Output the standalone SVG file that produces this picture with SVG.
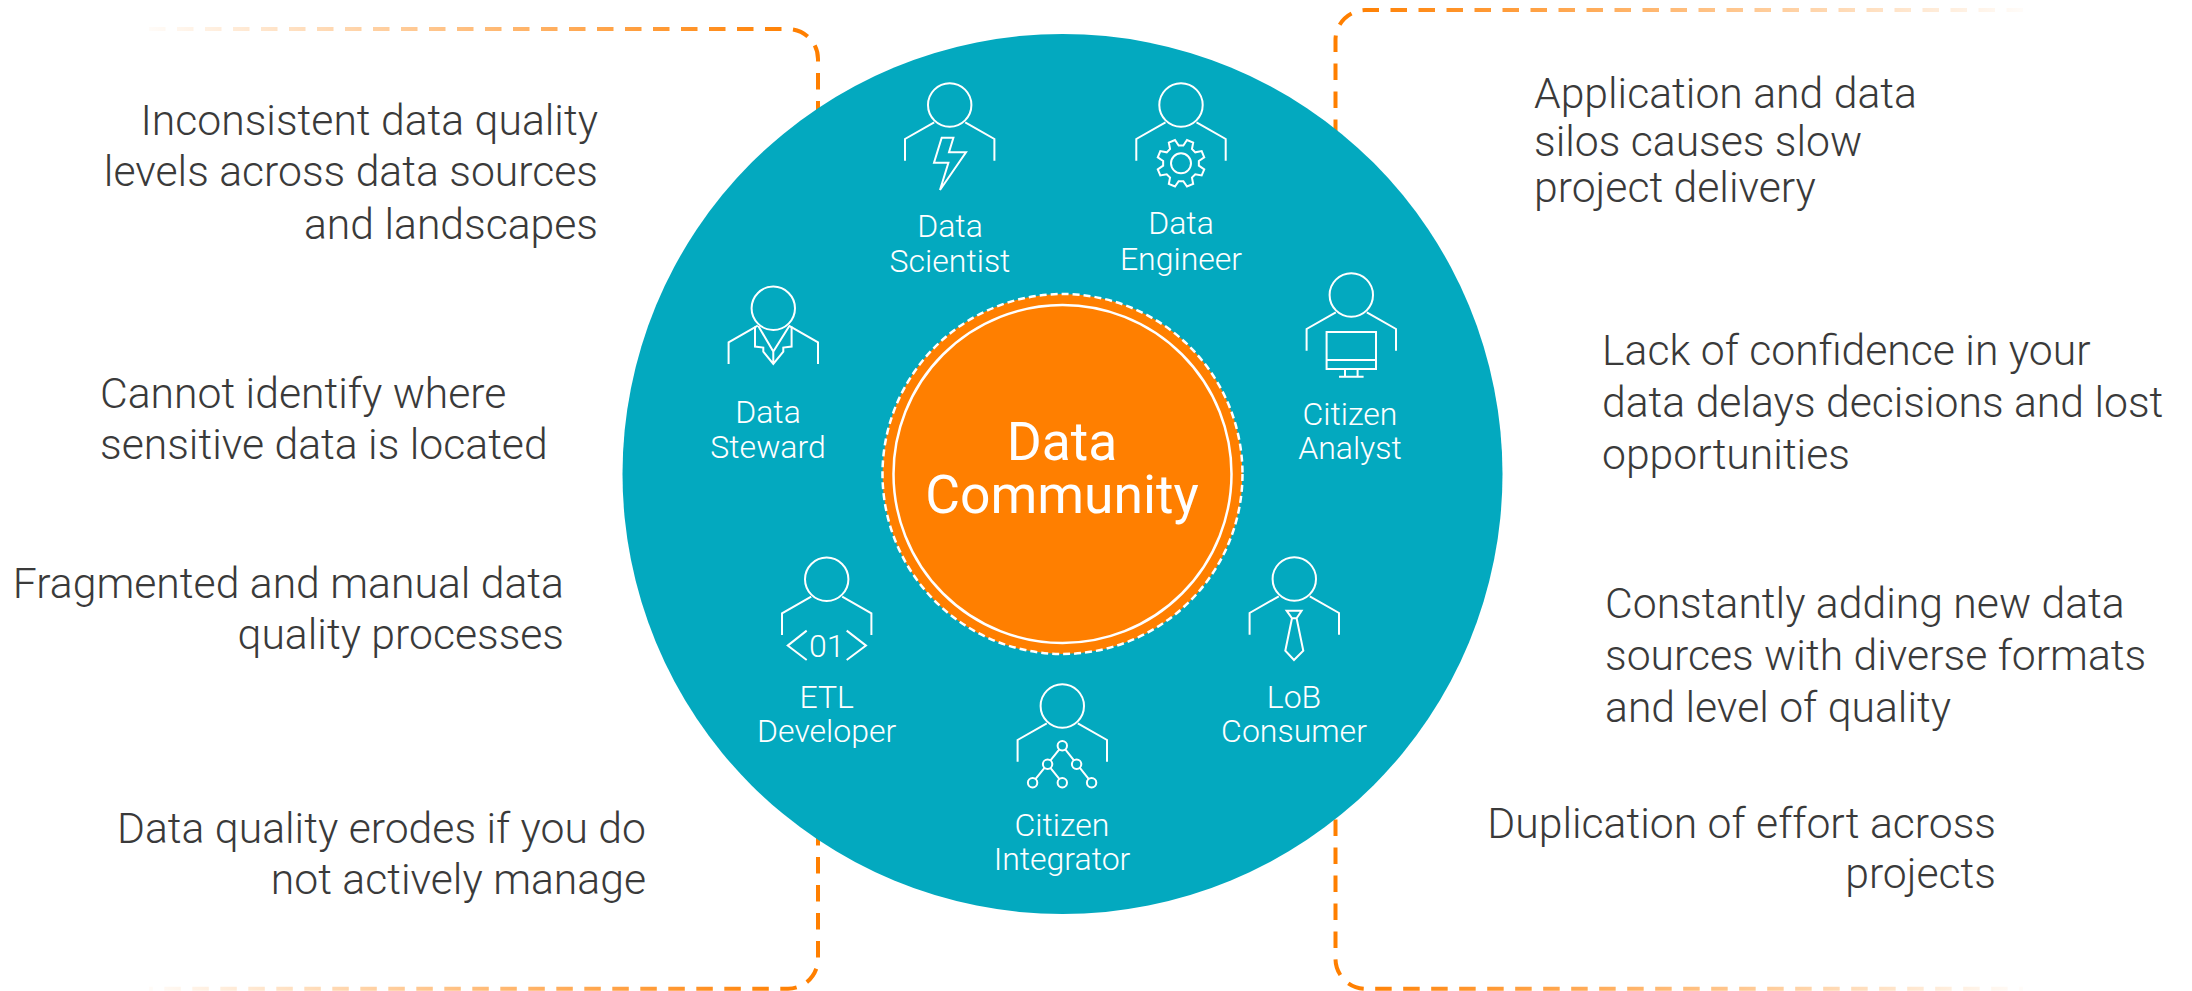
<svg xmlns="http://www.w3.org/2000/svg" width="2192" height="991" viewBox="0 0 2192 991">
<style>
text{font-family:Roboto,"Liberation Sans",sans-serif;font-weight:300}
.t{font-size:42.7px;fill:#3a3a3a}
.e{text-anchor:end}
.r{font-size:32px;fill:#fff;text-anchor:middle}
.c{font-size:53.4px;fill:#fff;text-anchor:middle;font-weight:400}
.i{fill:none;stroke:#fff;stroke-width:2}
.b{fill:none;stroke-width:4;stroke-dasharray:16.5 11.5}
</style>
<defs>
<linearGradient id="gl" gradientUnits="userSpaceOnUse" x1="130" y1="0" x2="800" y2="0"><stop offset="0" stop-color="#ff7f00" stop-opacity="0"/><stop offset="1" stop-color="#ff7f00"/></linearGradient>
<linearGradient id="gr" gradientUnits="userSpaceOnUse" x1="2040" y1="0" x2="1350" y2="0"><stop offset="0" stop-color="#ff7f00" stop-opacity="0"/><stop offset="1" stop-color="#ff7f00"/></linearGradient>
<g id="person" class="i"><circle r="21.7"/><path d="M-15.5 17.3L-44.7 34V55.7M15.5 17.3L44.7 34V55.7"/></g>
</defs>
<rect width="2192" height="991" fill="#fff"/>
<g id="connectors">
<path class="b" stroke="url(#gl)" d="M149 29H788A30 30 0 0 1 818 59V958A30 30 0 0 1 788 988.7H149"/>
<path class="b" stroke="url(#gr)" d="M2023 10H1365A30 30 0 0 0 1335.5 40V958A30 30 0 0 0 1365 988.7H2023"/>
</g>
<g id="community-ring"><circle cx="1062.5" cy="474" r="440" fill="#03a9bf"/></g>
<g id="center">
<circle cx="1062.5" cy="474" r="180" fill="#ff7f00" stroke="#fff" stroke-width="2.5" stroke-dasharray="7 4"/>
<circle cx="1062.5" cy="474" r="169" fill="none" stroke="#fff" stroke-width="2.5"/>
<text class="c"><tspan x="1062" y="460">Data</tspan><tspan x="1062" y="513">Community</tspan></text>
</g>
<g id="data-scientist"><use href="#person" x="949.7" y="105"/>
<polygon class="i" transform="translate(949.7 105)" points="-8,32.7 3.7,32.7 -0.7,47.3 16.3,47.3 -9.7,85 -1.3,57.7 -15.7,57.7"/>
<text class="r" x="950" y="236.7">Data</text><text class="r" x="950" y="271.7">Scientist</text></g>
<g id="data-engineer"><use href="#person" x="1181" y="105"/>
<g class="i" transform="translate(1181 163.3)"><circle r="10"/><polygon points="17.85,2.35 23.24,6.01 20.68,12.18 14.28,10.96 10.96,14.28 12.18,20.68 6.01,23.24 2.35,17.85 -2.35,17.85 -6.01,23.24 -12.18,20.68 -10.96,14.28 -14.28,10.96 -20.68,12.18 -23.24,6.01 -17.85,2.35 -17.85,-2.35 -23.24,-6.01 -20.68,-12.18 -14.28,-10.96 -10.96,-14.28 -12.18,-20.68 -6.01,-23.24 -2.35,-17.85 2.35,-17.85 6.01,-23.24 12.18,-20.68 10.96,-14.28 14.28,-10.96 20.68,-12.18 23.24,-6.01 17.85,-2.35"/></g>
<text class="r" x="1181" y="234.3">Data</text><text class="r" x="1181" y="270">Engineer</text></g>
<g id="data-steward"><use href="#person" x="773.3" y="308.3"/>
<path class="i" transform="translate(773.3 308.3)" d="M-18.3 18.3V38.3L-10 39.3V43.3L0 55.7L10 43.3V39.3L18.3 38.3V18.3M-15 17.7L0 43.3L16 17.7M0 43.3V55.7"/>
<text class="r" x="768" y="423.3">Data</text><text class="r" x="768" y="458.3">Steward</text></g>
<g id="citizen-analyst"><use href="#person" x="1351.3" y="295"/>
<path class="i" transform="translate(1351.3 295)" d="M-24.7 37H24.7V74H-24.7ZM-24.7 65H24.7M-6.3 74V81.7M6.3 74V81.7M-12.3 81.7H12.3"/>
<text class="r" x="1350" y="425">Citizen</text><text class="r" x="1350" y="459.3">Analyst</text></g>
<g id="etl-developer"><use href="#person" x="826.7" y="579.3"/>
<path class="i" transform="translate(826.7 579.3)" d="M-20 51.3L-39 66.3L-20 80.7M20 51.3L39.3 66.3L20 80.7"/>
<text class="r" x="826.7" y="656.7">01</text>
<text class="r" x="826.7" y="708.3">ETL</text><text class="r" x="826.7" y="742.3">Developer</text></g>
<g id="citizen-integrator"><use href="#person" x="1062.3" y="706"/>
<g class="i" transform="translate(1062.3 706)"><path d="M0 39.7L-29.7 76.7M-14.7 58.3L0 76.7M0 39.7L29.3 76.7"/>
<g style="fill:#03a9bf"><circle cy="39.7" r="4.7"/><circle cx="-14.7" cy="58.3" r="4.7"/><circle cx="14.3" cy="58.3" r="4.7"/><circle cx="-29.7" cy="76.7" r="4.7"/><circle cy="76.7" r="4.7"/><circle cx="29.3" cy="76.7" r="4.7"/></g></g>
<text class="r" x="1062" y="835.7">Citizen</text><text class="r" x="1062" y="870">Integrator</text></g>
<g id="lob-consumer"><use href="#person" x="1294.3" y="579"/>
<path class="i" transform="translate(1294.3 579)" d="M-7.7 31.7H7.3L2.3 39.3H-2.3ZM-2.3 39.3L-9 71.7L-0.3 81L9 71.7L2.3 39.3"/>
<text class="r" x="1294" y="708.3">LoB</text><text class="r" x="1294" y="742.3">Consumer</text></g>
<g id="left-issues">
<text class="t e" x="598" y="135">Inconsistent data quality</text><text class="t e" x="598" y="186">levels across data sources</text><text class="t e" x="598" y="239">and landscapes</text>
<text class="t" x="100" y="408">Cannot identify where</text><text class="t" x="100" y="459">sensitive data is located</text>
<text class="t e" x="564" y="598">Fragmented and manual data</text><text class="t e" x="564" y="649">quality processes</text>
<text class="t e" x="646" y="843">Data quality erodes if you do</text><text class="t e" x="646" y="894">not actively manage</text>
</g>
<g id="right-issues">
<text class="t" x="1534" y="108">Application and data</text><text class="t" x="1534" y="156">silos causes slow</text><text class="t" x="1534" y="202">project delivery</text>
<text class="t" x="1602" y="365">Lack of confidence in your</text><text class="t" x="1602" y="417">data delays decisions and lost</text><text class="t" x="1602" y="469">opportunities</text>
<text class="t" x="1605" y="618">Constantly adding new data</text><text class="t" x="1605" y="670">sources with diverse formats</text><text class="t" x="1605" y="722">and level of quality</text>
<text class="t e" x="1996" y="838">Duplication of effort across</text><text class="t e" x="1996" y="888">projects</text>
</g>
</svg>
